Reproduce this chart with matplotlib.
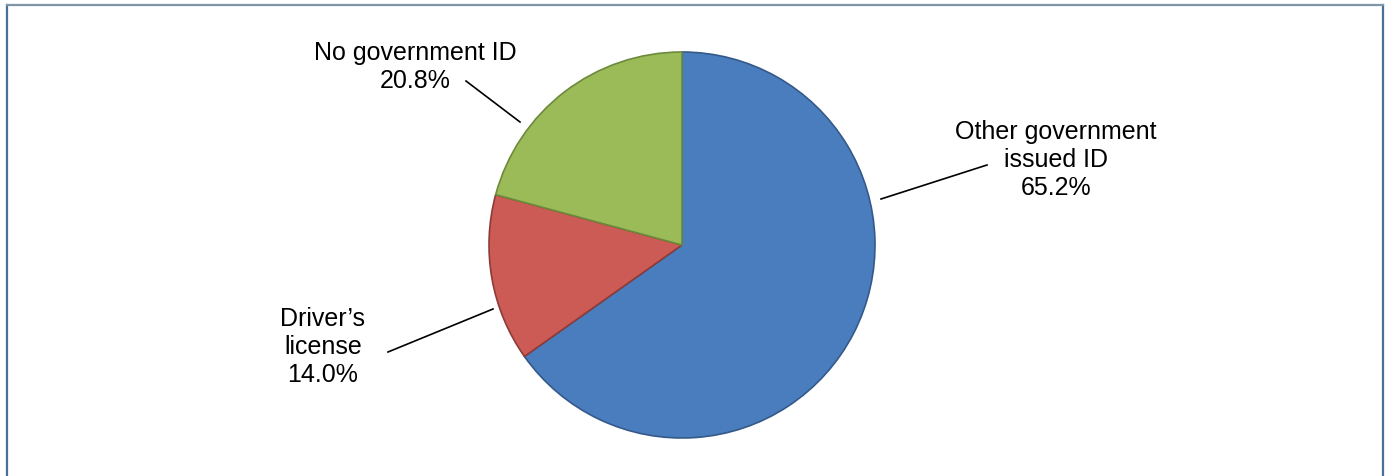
import matplotlib
matplotlib.use("Agg")
import matplotlib.pyplot as plt
from matplotlib.lines import Line2D

# share of respondents by type of ID
categories = ["Other government\nissued ID", "Driver\u2019s\nlicense", "No government ID"]
shares = [65.2, 14.0, 20.8]
colors = ["#4a7dbd", "#cc5a55", "#9bbb59"]
edges = ["#35598a", "#8e3b38", "#6c8a3a"]

W, H = 1385, 476


def main():
    plt.rcParams['font.family'] = ['Liberation Sans Narrow', 'Liberation Sans', 'DejaVu Sans']

    fig = plt.figure(figsize=(W / 100, H / 100), dpi=100)
    ax = fig.add_axes([0, 0, 1, 1])

    # pie centre/radius in pixel units (y measured from the bottom)
    cx, cy, r = 682, H - 245, 193
    ax.pie(shares, colors=colors, startangle=90, counterclock=False,
           center=(cx, cy), radius=r, frame=True,
           wedgeprops=dict(linewidth=1.2))
    for w, ec in zip(ax.patches, edges):
        w.set_edgecolor(ec)
    ax.set_xlim(0, W)
    ax.set_ylim(0, H)
    ax.axis('off')

    fs = 18
    labels = ["{}\n{:.1f}%".format(c, s) for c, s in zip(categories, shares)]
    # (line anchor on pie, line end near text, text centre)
    spots = [((881, 199), (987, 165), (1056, 160)),
             ((493, 309), (388, 352), (323, 347)),
             ((520, 122), (466, 81), (415, 67))]
    for lab, (p0, p1, tc) in zip(labels, spots):
        ax.plot([p0[0], p1[0]], [H - p0[1], H - p1[1]], color='black', lw=1.2)
        ax.text(tc[0], H - tc[1], lab, ha='center', va='center',
                multialignment='center', fontsize=fs, linespacing=1.2)

    # frame around the figure (no bottom edge)
    fig.add_artist(Line2D([6.5 / W, 6.5 / W], [0, 1 - 4.5 / H], transform=fig.transFigure,
                          color='#4a6f92', lw=1.6))
    fig.add_artist(Line2D([1382.5 / W, 1382.5 / W], [0, 1 - 4.5 / H], transform=fig.transFigure,
                          color='#4a6f92', lw=1.6))
    fig.add_artist(Line2D([6.5 / W, 1382.5 / W], [1 - 4.5 / H, 1 - 4.5 / H], transform=fig.transFigure,
                          color='#7f95a8', lw=1.6))

    fig.savefig('out.png', dpi=100)


if __name__ == "__main__":
    main()
